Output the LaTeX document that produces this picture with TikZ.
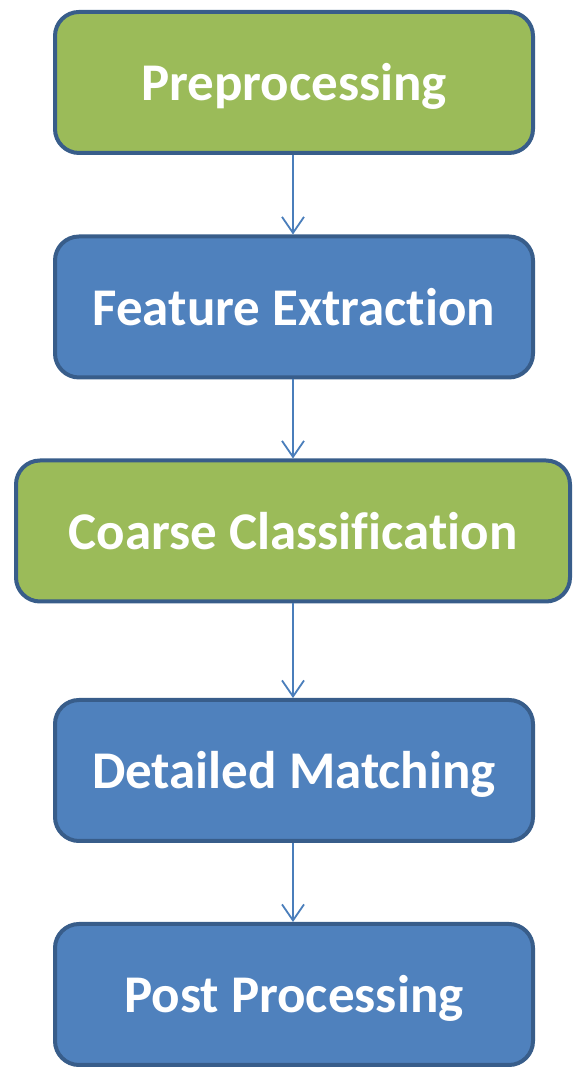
\documentclass[tikz,border=0pt]{standalone}
\usepackage{fontspec}
\setmainfont{Carlito}[RawFeature={-liga;-clig;-dlig}]
\usetikzlibrary{arrows.meta}
\definecolor{boxgreen}{HTML}{9BBB59}
\definecolor{boxblue}{HTML}{4F81BD}
\definecolor{boxedge}{HTML}{385D8A}
\definecolor{arrowblue}{HTML}{4A7EBB}
\begin{document}
\begin{tikzpicture}[x=1pt,y=1pt,
  stage/.style={draw=boxedge, line width=4pt, rounded corners=24pt,
    minimum width=478pt, minimum height=141pt, inner sep=0pt,
    text=white, font=\fontsize{53}{60}\selectfont\bfseries,
    text height=37pt, text depth=0pt},
  greenstage/.style={stage, fill=boxgreen},
  bluestage/.style={stage, fill=boxblue},
  flow/.style={draw=arrowblue, line width=1.8pt,
    -{Straight Barb[length=16pt,width=22pt,line width=1.8pt]}}]
\useasboundingbox (0,0) rectangle (573,1067);
\begin{scope}
\clip (0,0) rectangle (573,1067);
\node[greenstage] (pre) at (294,984.5) {Preprocessing};
\node[bluestage] (feat) at (294,760) {Feature Extrac\kern0pt tion};
\node[greenstage, minimum width=554pt] (coarse) at (293,536) {Coarse Classif\kern0pt icat\kern0pt ion};
\node[bluestage] (detail) at (294,296.5) {Detailed Matching};
\node[bluestage] (post) at (294,72.5) {Post Processing};
\end{scope}
\draw[flow] (pre.south -| 293,0) -- (feat.north -| 293,0);
\draw[flow] (feat.south -| 293,0) -- (coarse.north -| 293,0);
\draw[flow] (coarse.south -| 293,0) -- (detail.north -| 293,0);
\draw[flow] (detail.south -| 293,0) -- (post.north -| 293,0);
\end{tikzpicture}
\end{document}
